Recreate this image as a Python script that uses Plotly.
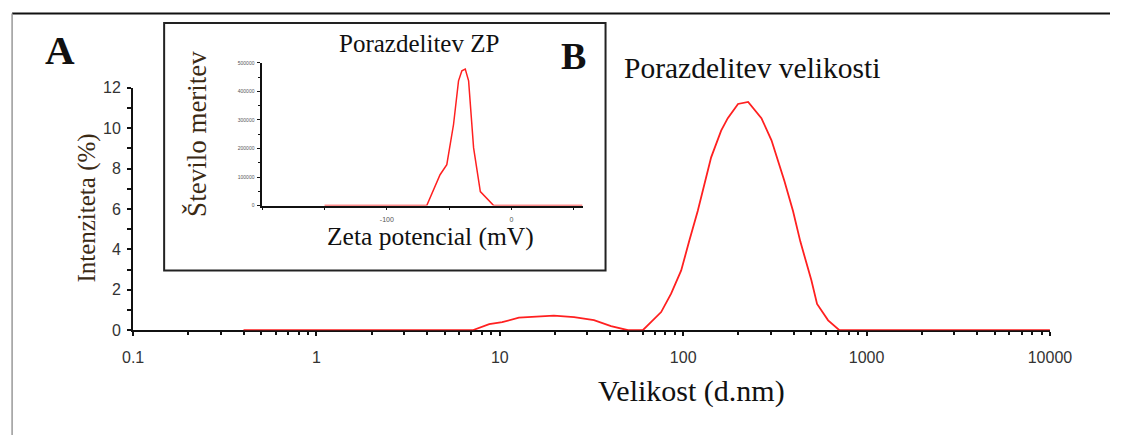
import plotly.graph_objects as go

# ---------------- data ----------------
size_nm = [0.4, 1.0, 3.0, 7.1, 8.75, 10.3, 12.7, 15.5, 19.7, 25.4, 32.6, 40.4, 50.0,
           60.2, 75.8, 85.9, 97.5, 108, 120, 142, 161, 175, 199, 226, 267, 303, 329,
           356, 397, 435, 500, 537, 617, 711, 1000, 3000, 10000]
intensity = [0, 0, 0, 0, 0.3, 0.4, 0.62, 0.68, 0.72, 0.65, 0.5, 0.2, 0,
             0, 0.9, 1.81, 2.96, 4.44, 5.9, 8.56, 9.88, 10.5, 11.2, 11.3, 10.5, 9.4, 8.4,
             7.4, 5.9, 4.4, 2.47, 1.3, 0.49, 0, 0, 0, 0]

zeta_mv = [-150, -68, -57.3, -51.9, -46.5, -42.5, -39.8, -37.1, -34.4, -30.4, -25, -14.3, 57]
counts = [0, 0, 108000, 143000, 284000, 437000, 472000, 478000, 437000, 202000, 49000, 0, 0]

x_tickvals = [0.1, 1, 10, 100, 1000, 10000]
x_ticktext = ["0.1", "1", "10", "100", "1000", "10000"]
inset_x_tickvals = [-200, -150, -100, -50, 0, 50]
inset_x_ticktext = ["", "", "-100", "", "0", ""]
inset_y_tickvals = [0, 100000, 200000, 300000, 400000, 500000]
inset_y_ticktext = ["0", "100000", "200000", "300000", "400000", "500000"]

# placement frame (pixel positions measured on the target picture)
FX0, FW = 11.0, 1098.0
FY0, FH = 7.0, 428.0
SERIF = "Liberation Serif"
SANS = "Liberation Sans"
RED = "#ff2020"


def px(x):
    return min(max((x - FX0) / FW, 0), 1)


def py(y):
    return min(max(1 - (y - FY0) / FH, 0), 1)


fig = go.Figure()
fig.add_trace(go.Scatter(x=size_nm, y=intensity, mode="lines",
                         line=dict(color=RED, width=1.8), xaxis="x", yaxis="y",
                         showlegend=False, hoverinfo="skip"))
fig.add_trace(go.Scatter(x=zeta_mv, y=counts, mode="lines",
                         line=dict(color=RED, width=1.5), xaxis="x3", yaxis="y3",
                         showlegend=False, hoverinfo="skip"))

main_x_dom = [px(133), px(1049)]
main_y_dom = [py(330), py(87)]
ins_x_dom = [px(262), px(582)]
ins_y_dom = [py(205), py(62)]

axis_common = dict(showline=True, linecolor="#111", linewidth=2, showgrid=False,
                   zeroline=False, tickcolor="#111", tickwidth=1.5)

fig.update_layout(
    autosize=True,
    margin=dict(l=0, r=0, t=0, b=0),
    paper_bgcolor="white", plot_bgcolor="rgba(0,0,0,0)",
    xaxis=dict(type="log", range=[-1, 4], domain=main_x_dom, anchor="y",
               tickvals=x_tickvals, ticktext=x_ticktext, ticks="outside", ticklen=4,
               ticklabelstandoff=8, layer="below traces",
               minor=dict(ticks="outside", ticklen=3, dtick="D1", tickcolor="#111", tickwidth=1.5),
               tickfont=dict(family=SANS, size=16, color="#333"), **axis_common),
    xaxis2=dict(type="log", range=[-1, 4], domain=main_x_dom, anchor="y", overlaying="x",
                matches="x", tickvals=x_tickvals, ticks="inside", ticklen=4,
                layer="below traces",
                minor=dict(ticks="inside", ticklen=3, dtick="D1", tickcolor="#111", tickwidth=1.5),
                showticklabels=False, showline=False, showgrid=False, zeroline=False,
                tickcolor="#111", tickwidth=1.5),
    yaxis=dict(range=[0, 12], domain=main_y_dom, anchor="x", dtick=2, ticks="outside",
               ticklen=4, ticklabelstandoff=3,
               minor=dict(ticks="outside", ticklen=4, dtick=1, tickcolor="#111", tickwidth=1.5),
               tickfont=dict(family=SANS, size=16, color="#333"), **axis_common),
    yaxis2=dict(range=[0, 12], domain=main_y_dom, anchor="x", overlaying="y", matches="y",
                dtick=2, ticks="inside", ticklen=4,
                minor=dict(ticks="inside", ticklen=4, dtick=1, tickcolor="#111", tickwidth=1.5),
                showticklabels=False, showline=False, showgrid=False, zeroline=False,
                tickcolor="#111", tickwidth=1.5),
    xaxis3=dict(range=[-200, 57], domain=ins_x_dom, anchor="y3",
                tickvals=inset_x_tickvals, ticktext=inset_x_ticktext, ticks="outside",
                ticklen=3, ticklabelstandoff=3, layer="below traces",
                tickfont=dict(family=SANS, size=7, color="#555"),
                showline=True, linecolor="#111", linewidth=1.5, showgrid=False,
                zeroline=False, tickcolor="#111", tickwidth=1.2),
    yaxis3=dict(range=[0, 500000], domain=ins_y_dom, anchor="x3",
                tickvals=inset_y_tickvals, ticktext=inset_y_ticktext, ticks="outside",
                ticklen=3, ticklabelstandoff=2,
                minor=dict(ticks="outside", ticklen=2, dtick=50000, tickcolor="#111", tickwidth=1),
                tickfont=dict(family=SANS, size=5, color="#555"),
                showline=True, linecolor="#111", linewidth=1.5, showgrid=False,
                zeroline=False, tickcolor="#111", tickwidth=1.2),
    shapes=[
        dict(type="line", xref="paper", yref="paper", x0=0.001, x1=1, y0=py(12.5), y1=py(12.5),
             line=dict(color="#111", width=2)),
        dict(type="line", xref="paper", yref="paper", x0=0.001, x1=0.001, y0=py(12.5), y1=0,
             line=dict(color="#999", width=1.5)),
        dict(type="rect", xref="paper", yref="paper", x0=px(164), x1=px(605), y0=py(270), y1=py(22),
             line=dict(color="#222", width=2), fillcolor="white", layer="below"),
    ],
    annotations=[
        dict(text="<b>A</b>", x=px(60), y=py(49), xref="paper", yref="paper", showarrow=False,
             font=dict(family=SERIF, size=41, color="#111"), xanchor="center", yanchor="middle"),
        dict(text="<b>B</b>", x=px(573), y=py(55), xref="paper", yref="paper", showarrow=False,
             font=dict(family=SERIF, size=38, color="#111"), xanchor="center", yanchor="middle"),
        dict(text="Porazdelitev velikosti", x=px(751), y=py(67), xref="paper", yref="paper",
             showarrow=False, font=dict(family=SERIF, size=29.5, color="#111"),
             xanchor="center", yanchor="middle"),
        dict(text="Porazdelitev ZP", x=px(419), y=py(43), xref="paper", yref="paper",
             showarrow=False, font=dict(family=SERIF, size=25, color="#111"),
             xanchor="center", yanchor="middle"),
        dict(text="Zeta potencial (mV)", x=px(430), y=py(236), xref="paper", yref="paper",
             showarrow=False, font=dict(family=SERIF, size=25.5, color="#111"),
             xanchor="center", yanchor="middle"),
        dict(text="Število meritev", x=px(197), y=py(133), xref="paper", yref="paper",
             showarrow=False, textangle=-90, font=dict(family=SERIF, size=27, color="#3b2a14"),
             xanchor="center", yanchor="middle"),
        dict(text="Intenziteta (%)", x=px(86), y=py(208), xref="paper", yref="paper",
             showarrow=False, textangle=-90, font=dict(family=SERIF, size=25, color="#3b2a14"),
             xanchor="center", yanchor="middle"),
        dict(text="Velikost (d.nm)", x=px(691), y=py(391), xref="paper", yref="paper",
             showarrow=False, font=dict(family=SERIF, size=30, color="#111"),
             xanchor="center", yanchor="middle"),
    ],
)

# the plot div is pinned to the viewport so it fills the page exactly
fig.write_html("out.html", default_width="100vw; position:fixed; left:0; top:0",
               default_height="100vh")
